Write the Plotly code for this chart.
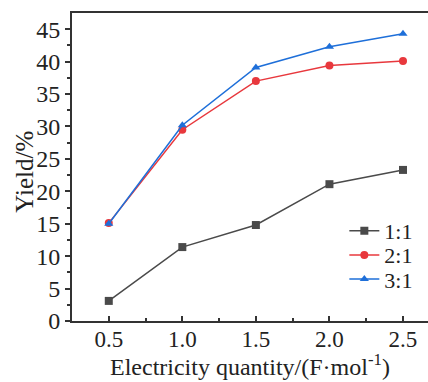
import plotly.graph_objects as go

x = [0.5, 1.0, 1.5, 2.0, 2.5]
y11 = [3.1, 11.4, 14.8, 21.1, 23.3]
y21 = [15.1, 29.5, 37.0, 39.4, 40.1]
y31 = [15.0, 30.2, 39.1, 42.3, 44.3]
names = ["1:1", "2:1", "3:1"]
colors = ["#4a4a4a", "#e8383d", "#1e6fd9"]
symbols = ["square", "circle", "triangle-up"]
legend_ids = ["legend", "legend2", "legend3"]
legend_y = [0.292, 0.214, 0.136]

font = "Liberation Serif"
fig = go.Figure()
for ys, n, c, s, lg in zip([y11, y21, y31], names, colors, symbols, legend_ids):
    fig.add_trace(go.Scatter(x=x, y=ys, name=n, mode="lines+markers", legend=lg,
                             line=dict(color=c, width=1.5),
                             marker=dict(color=c, symbol=s, size=8)))

legends = {}
for lg, ly in zip(legend_ids, legend_y):
    legends[lg] = dict(x=0.765, y=ly, xanchor="left", yanchor="middle",
                       font=dict(size=22, family=font, color="#222"),
                       bgcolor="rgba(0,0,0,0)", itemwidth=30)

fig.update_layout(
    width=428, height=382, margin=dict(l=72, r=0, t=13, b=61),
    plot_bgcolor="white", paper_bgcolor="white",
    font=dict(family=font, size=24, color="#222"),
    showlegend=True,
    **legends,
    xaxis=dict(range=[0.25, 2.67], tickvals=[0.5, 1.0, 1.5, 2.0, 2.5],
               ticktext=["0.5", "1.0", "1.5", "2.0", "2.5"],
               showline=True, linecolor="#333", linewidth=2, mirror=True,
               ticks="inside", ticklen=5, tickwidth=1.5, tickcolor="#333",
               minor=dict(tickvals=[0.75, 1.25, 1.75, 2.25], ticks="inside", ticklen=3, tickcolor="#333"),
               showgrid=False, zeroline=False, ticklabelstandoff=-4,
               tickfont=dict(size=23, family=font)),
    yaxis=dict(range=[0, 47.5], tickvals=[0, 5, 10, 15, 20, 25, 30, 35, 40, 45],
               showline=True, linecolor="#333", linewidth=2,
               ticks="outside", ticklen=5, tickwidth=1.5, tickcolor="#333",
               minor=dict(tickvals=[2.5, 7.5, 12.5, 17.5, 22.5, 27.5, 32.5, 37.5, 42.5], ticks="outside", ticklen=3, tickcolor="#333"),
               showgrid=False, zeroline=False,
               tickfont=dict(size=24, family=font)),
    annotations=[
        dict(text="Electricity quantity/(F·mol<sup>-1</sup>)", xref="paper", yref="paper",
             x=0.5, y=-0.198, xanchor="center", yanchor="bottom", showarrow=False,
             font=dict(size=24, family=font, color="#222")),
        dict(text="Yield/%", xref="paper", yref="paper", textangle=-90,
             x=-0.132, y=0.485, xanchor="center", yanchor="middle", showarrow=False,
             font=dict(size=25, family=font, color="#222")),
    ],
)
fig.write_html("out.html")
